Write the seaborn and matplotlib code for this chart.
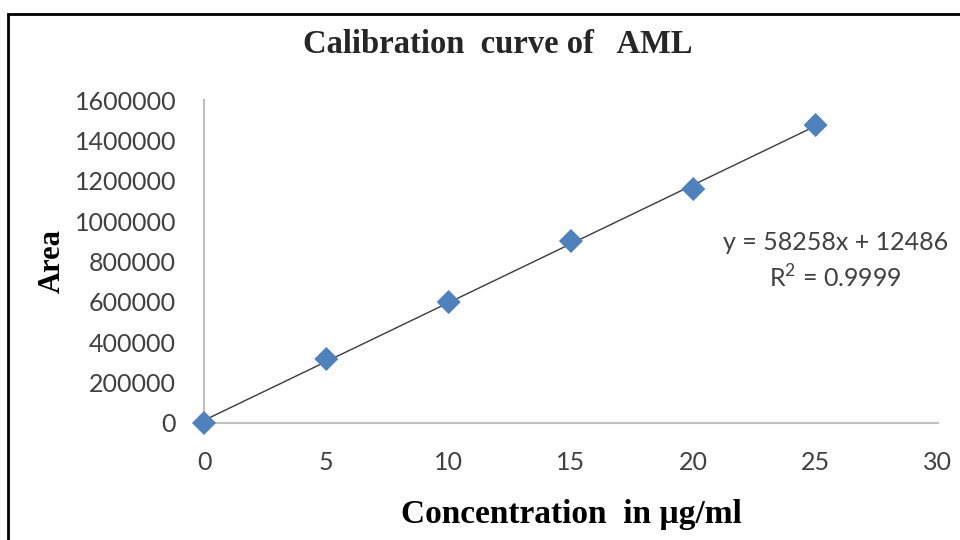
import matplotlib
matplotlib.use("Agg")
import matplotlib.pyplot as plt
import seaborn as sns
import pandas as pd
from matplotlib.patches import Rectangle

concentration = [0, 5, 10, 15, 20, 25]
area = [0, 317000, 599000, 901500, 1159000, 1476000]
x_ticks = [0, 5, 10, 15, 20, 25, 30]
y_ticks = [0, 200000, 400000, 600000, 800000, 1000000, 1200000, 1400000, 1600000]
equation_text = "y = 58258x + 12486\nR$^2$ = 0.9999"

df = pd.DataFrame({"Concentration": concentration, "Area": area})

sns.set_theme(style="white")
plt.rcParams['font.family'] = ['Lato', 'DejaVu Sans']
plt.rcParams['mathtext.fontset'] = 'custom'
plt.rcParams['mathtext.rm'] = 'Lato'

fig = plt.figure(figsize=(9.6, 5.4), dpi=100)
ax = fig.add_axes([0.2125, 0.2167, 0.977 - 0.2125, 0.8148 - 0.2167])

sns.regplot(data=df, x="Concentration", y="Area", ci=None, ax=ax, marker="D",
            scatter_kws=dict(s=150, color="#4F81BD", edgecolor="none", zorder=3, alpha=1),
            line_kws=dict(color="#3a3a3a", lw=1.0, zorder=2), truncate=True)

ax.set_xlim(0, 30)
ax.set_ylim(0, 1600000)
ax.set_xticks(x_ticks)
ax.set_yticks(y_ticks)
ax.set_xticklabels([str(v) for v in x_ticks])
ax.set_yticklabels([str(v) for v in y_ticks])
ax.tick_params(axis="both", length=0, labelsize=18, colors="#404040")
ax.tick_params(axis="y", pad=20)
ax.tick_params(axis="x", pad=20)
for s in ["top", "right"]:
    ax.spines[s].set_visible(False)
for s in ["left", "bottom"]:
    ax.spines[s].set_color("#bfbfbf")
    ax.spines[s].set_linewidth(1.5)
for c in ax.collections:
    c.set_clip_on(False)

ax.set_xlabel("Concentration  in µg/ml", family=["Liberation Serif", "DejaVu Serif"],
              fontweight="bold", fontsize=24, color="black", labelpad=18)
ax.set_ylabel("Area", family=["Liberation Serif", "DejaVu Serif"],
              fontweight="bold", fontsize=22, color="black", labelpad=6)

fig.text(0.518, 0.918, "Calibration  curve of   AML", family=["Liberation Serif", "DejaVu Serif"],
         fontweight="bold", fontsize=23.5, ha="center", va="center")

ax.text(0.86, 0.50, equation_text, transform=ax.transAxes, ha="center", va="center",
        fontsize=18, color="#404040", linespacing=1.45)

fig.patches.append(Rectangle((8 / 960, -0.05), 1.0, 1 - 14 / 540 + 0.05, transform=fig.transFigure,
                             fill=False, edgecolor="black", lw=2))

fig.savefig("out.png", dpi=100)
